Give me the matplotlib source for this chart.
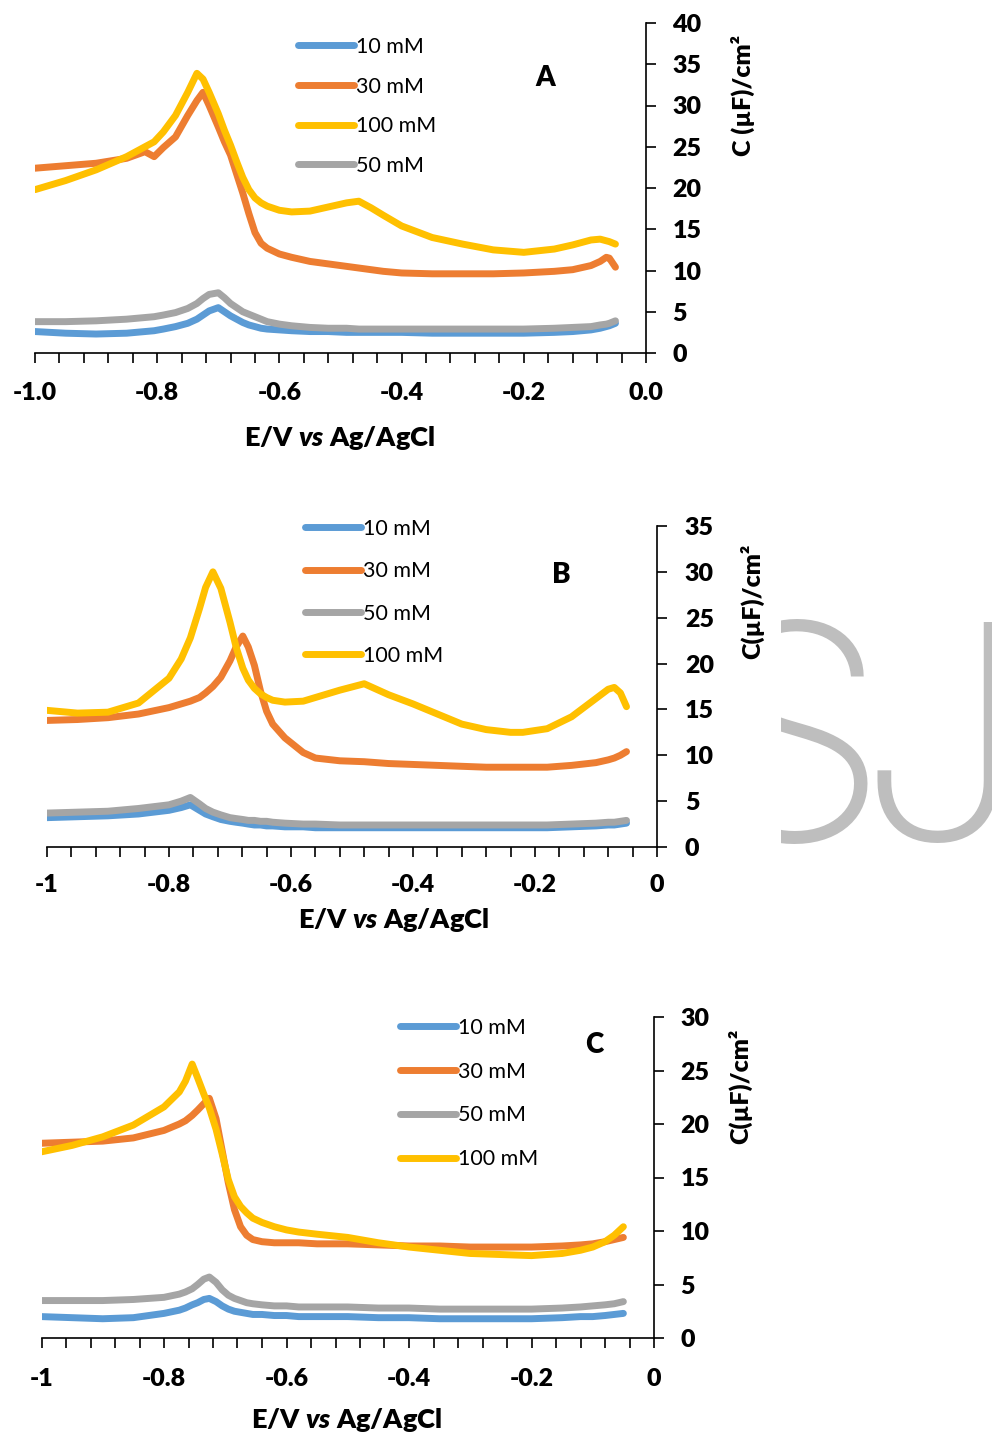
import matplotlib
matplotlib.use('Agg')
from matplotlib import pyplot as plt
from matplotlib.patches import Rectangle
from matplotlib.ticker import MultipleLocator, FixedLocator

plt.rcParams['font.family'] = ['Lato', 'DejaVu Sans']
plt.rcParams['font.weight'] = 'heavy'
plt.rcParams['axes.labelweight'] = 'heavy'
plt.rcParams['mathtext.fontset'] = 'custom'
plt.rcParams['mathtext.it'] = 'Lato:italic:heavy'
plt.rcParams['mathtext.rm'] = 'Lato:heavy'
plt.rcParams['axes.unicode_minus'] = False

W, H = 992, 1442

colors = {'10 mM': '#5B9BD5', '30 mM': '#ED7D31', '50 mM': '#A5A5A5', '100 mM': '#FFC000'}

# ---- panel A ----
a_e = [-1.0, -0.95, -0.9, -0.85, -0.82, -0.805, -0.79, -0.77, -0.75, -0.735, -0.725, -0.715,
       -0.70, -0.69, -0.68, -0.67, -0.66, -0.65, -0.64, -0.63, -0.62, -0.60, -0.58, -0.55,
       -0.52, -0.49, -0.47, -0.45, -0.43, -0.40, -0.35, -0.30, -0.25, -0.20, -0.15, -0.12,
       -0.09, -0.075, -0.065, -0.06, -0.05]
a_10 = [2.6, 2.4, 2.3, 2.4, 2.6, 2.7, 2.9, 3.2, 3.6, 4.1, 4.6, 5.1,
        5.5, 5.0, 4.5, 4.1, 3.7, 3.4, 3.2, 3.0, 2.9, 2.8, 2.7, 2.6,
        2.6, 2.5, 2.5, 2.5, 2.5, 2.5, 2.4, 2.4, 2.4, 2.4, 2.5, 2.6,
        2.8, 3.0, 3.2, 3.3, 3.6]
a_30 = [22.4, 22.7, 23.0, 23.6, 24.4, 23.8, 24.9, 26.2, 28.8, 30.6, 31.6, 30.0,
        27.4, 25.6, 24.0, 21.7, 19.4, 16.9, 14.6, 13.3, 12.7, 12.0, 11.6, 11.1,
        10.8, 10.5, 10.3, 10.1, 9.9, 9.7, 9.6, 9.6, 9.6, 9.7, 9.9, 10.1,
        10.6, 11.1, 11.6, 11.5, 10.4]
a_50 = [3.8, 3.8, 3.9, 4.1, 4.3, 4.4, 4.6, 4.9, 5.4, 6.0, 6.6, 7.1,
        7.3, 6.7, 6.0, 5.5, 5.0, 4.7, 4.4, 4.1, 3.8, 3.5, 3.3, 3.1,
        3.0, 3.0, 2.9, 2.9, 2.9, 2.9, 2.9, 2.9, 2.9, 2.9, 3.0, 3.1,
        3.2, 3.4, 3.5, 3.6, 3.9]
a_100 = [19.8, 20.9, 22.2, 23.8, 25.0, 25.6, 26.8, 28.8, 31.6, 33.9, 33.2, 31.6,
         29.0, 27.0, 25.2, 23.2, 21.3, 19.8, 18.8, 18.2, 17.8, 17.3, 17.1, 17.2,
         17.7, 18.2, 18.4, 17.6, 16.7, 15.4, 14.0, 13.2, 12.5, 12.2, 12.6, 13.1,
         13.7, 13.8, 13.6, 13.5, 13.2]

# ---- panel B ----
b_e = [-1.0, -0.95, -0.9, -0.85, -0.8, -0.78, -0.765, -0.75, -0.74, -0.728, -0.715, -0.70,
       -0.69, -0.679, -0.67, -0.66, -0.65, -0.64, -0.63, -0.61, -0.58, -0.56, -0.52, -0.48,
       -0.44, -0.40, -0.36, -0.32, -0.28, -0.24, -0.22, -0.18, -0.14, -0.10, -0.08, -0.07,
       -0.06, -0.05]
b_10 = [3.2, 3.3, 3.4, 3.6, 4.0, 4.3, 4.6, 4.0, 3.6, 3.3, 3.0, 2.8,
        2.7, 2.6, 2.5, 2.4, 2.4, 2.3, 2.3, 2.2, 2.2, 2.1, 2.1, 2.1,
        2.1, 2.1, 2.1, 2.1, 2.1, 2.1, 2.1, 2.1, 2.2, 2.3, 2.4, 2.4,
        2.5, 2.6]
b_30 = [13.8, 13.9, 14.1, 14.5, 15.2, 15.6, 15.9, 16.3, 16.8, 17.5, 18.5, 20.3,
        21.8, 23.0, 21.8, 19.8, 17.0, 14.8, 13.4, 11.9, 10.3, 9.7, 9.4, 9.3,
        9.1, 9.0, 8.9, 8.8, 8.7, 8.7, 8.7, 8.7, 8.9, 9.2, 9.5, 9.7,
        10.0, 10.4]
b_50 = [3.7, 3.8, 3.9, 4.2, 4.6, 5.0, 5.4, 4.7, 4.2, 3.8, 3.5, 3.2,
        3.1, 3.0, 2.9, 2.9, 2.8, 2.8, 2.7, 2.6, 2.5, 2.5, 2.4, 2.4,
        2.4, 2.4, 2.4, 2.4, 2.4, 2.4, 2.4, 2.4, 2.5, 2.6, 2.7, 2.7,
        2.8, 2.9]
b_100 = [14.9, 14.6, 14.7, 15.7, 18.4, 20.5, 22.8, 26.0, 28.3, 30.0, 28.2, 24.5,
         21.8, 19.5, 18.2, 17.3, 16.7, 16.3, 16.0, 15.8, 15.9, 16.3, 17.1, 17.8,
         16.6, 15.6, 14.5, 13.4, 12.8, 12.5, 12.5, 12.9, 14.2, 16.2, 17.2, 17.4,
         16.8, 15.3]

# ---- panel C ----
c_e = [-1.0, -0.95, -0.9, -0.85, -0.8, -0.775, -0.765, -0.754, -0.745, -0.735, -0.726, -0.715,
       -0.705, -0.695, -0.685, -0.675, -0.665, -0.655, -0.64, -0.62, -0.6, -0.58, -0.55, -0.5,
       -0.45, -0.4, -0.35, -0.3, -0.25, -0.2, -0.15, -0.12, -0.1, -0.08, -0.065, -0.05]
c_10 = [2.0, 1.9, 1.8, 1.9, 2.3, 2.6, 2.8, 3.1, 3.3, 3.6, 3.7, 3.4,
        3.0, 2.7, 2.5, 2.4, 2.3, 2.2, 2.2, 2.1, 2.1, 2.0, 2.0, 2.0,
        1.9, 1.9, 1.8, 1.8, 1.8, 1.8, 1.9, 2.0, 2.0, 2.1, 2.2, 2.3]
c_30 = [18.2, 18.3, 18.4, 18.7, 19.4, 20.0, 20.3, 20.8, 21.3, 21.9, 22.4, 20.5,
        17.5, 14.5, 12.0, 10.4, 9.6, 9.2, 9.0, 8.9, 8.9, 8.9, 8.8, 8.8,
        8.7, 8.6, 8.6, 8.5, 8.5, 8.5, 8.6, 8.7, 8.8, 9.0, 9.2, 9.4]
c_50 = [3.5, 3.5, 3.5, 3.6, 3.8, 4.1, 4.3, 4.6, 5.0, 5.5, 5.7, 5.2,
        4.5, 4.0, 3.7, 3.5, 3.3, 3.2, 3.1, 3.0, 3.0, 2.9, 2.9, 2.9,
        2.8, 2.8, 2.7, 2.7, 2.7, 2.7, 2.8, 2.9, 3.0, 3.1, 3.2, 3.4]
c_100 = [17.4, 18.0, 18.8, 19.9, 21.6, 23.0, 24.0, 25.6, 24.3, 22.8, 21.5, 19.5,
         17.2, 14.8, 13.2, 12.3, 11.7, 11.2, 10.8, 10.4, 10.1, 9.9, 9.7, 9.4,
         8.9, 8.5, 8.2, 7.9, 7.8, 7.7, 7.9, 8.2, 8.5, 9.0, 9.6, 10.4]

a_xticklabels = ['-1.0', '-0.8', '-0.6', '-0.4', '-0.2', '0.0']
bc_xticklabels = ['-1', '-0.8', '-0.6', '-0.4', '-0.2', '0']
xticks = [-1.0, -0.8, -0.6, -0.4, -0.2, 0.0]


def px_rect(left, top, right, bottom):
    return [left / W, 1 - bottom / H, (right - left) / W, (bottom - top) / H]


def style_axes(ax, ymax, xticklabels, xpad, ypad):
    ax.set_xlim(-1, 0)
    ax.set_ylim(0, ymax)
    ax.patch.set_alpha(0)
    for side in ('top', 'left'):
        ax.spines[side].set_visible(False)
    for side in ('right', 'bottom'):
        ax.spines[side].set_linewidth(1.2)
    ax.yaxis.tick_right()
    ax.yaxis.set_major_locator(MultipleLocator(5))
    ax.xaxis.set_major_locator(FixedLocator(xticks))
    ax.set_xticklabels(xticklabels)
    ax.xaxis.set_minor_locator(MultipleLocator(0.04))
    ax.tick_params(axis='x', which='both', direction='out', length=7, width=1.2,
                   labelsize=18, pad=xpad)
    ax.tick_params(axis='y', which='both', direction='out', length=7, width=1.2,
                   labelsize=18, pad=ypad)


def draw_curves(ax, e, series):
    for label, values in series:
        ax.plot(e, values, color=colors[label], lw=5.0, label=label,
                solid_capstyle='round', solid_joinstyle='round')


def add_legend(ax, anchor, spacing):
    ax.legend(loc='upper left', bbox_to_anchor=anchor, frameon=False,
              prop={'weight': 'normal', 'size': 15.5}, handlelength=2.6,
              handletextpad=0.1, labelspacing=spacing, borderpad=0, borderaxespad=0)


def add_labels(ax, ylabel, ylabel_xy, xlabel_xy):
    ax.set_xlabel('E/V $\\mathit{vs}$ Ag/AgCl', fontsize=19.5)
    ax.xaxis.set_label_coords(*xlabel_xy)
    ax.xaxis.label.set_va('center')
    ax.set_ylabel(ylabel, fontsize=18)
    ax.yaxis.set_label_position('right')
    ax.yaxis.set_label_coords(*ylabel_xy)
    ax.yaxis.label.set_va('center')
    ax.yaxis.label.set_ha('center')


fig = plt.figure(figsize=(W / 100, H / 100), dpi=100)

# big grey watermark letters on the right, cut off on their left side
sj_clip = Rectangle((781 / W, 0), 1, 1, transform=fig.transFigure)
for ch, right in (('S', 889), ('J', 1025)):
    t = fig.text(right / W, 1 - 840 / H, ch, ha='right', va='baseline', fontsize=216,
                 color='#BEBEBE', family='Inter', weight='light')
    t.set_clip_path(sj_clip)

# A
ax_a = fig.add_axes(px_rect(35, 23, 646, 353))
style_axes(ax_a, 40, a_xticklabels, 14, 12)
draw_curves(ax_a, a_e, [('10 mM', a_10), ('30 mM', a_30), ('100 mM', a_100), ('50 mM', a_50)])
add_legend(ax_a, ((298 - 35) / 611, (353 - 37) / 330), 0.91)
ax_a.text((545 - 35) / 611, (353 - 78) / 330, 'A', transform=ax_a.transAxes,
          ha='center', va='center', fontsize=20)
add_labels(ax_a, 'C (µF)/cm²', ((743 - 35) / 611, (353 - 95) / 330),
           ((340 - 35) / 611, (353 - 438) / 330))

# B
ax_b = fig.add_axes(px_rect(47, 526, 657, 847))
style_axes(ax_b, 35, bc_xticklabels, 12.5, 13)
draw_curves(ax_b, b_e, [('10 mM', b_10), ('30 mM', b_30), ('50 mM', b_50), ('100 mM', b_100)])
add_legend(ax_b, ((305 - 47) / 610, (847 - 519) / 321), 1.035)
ax_b.text((561 - 47) / 610, (847 - 575) / 321, 'B', transform=ax_b.transAxes,
          ha='center', va='center', fontsize=20)
add_labels(ax_b, 'C(µF)/cm²', ((752 - 47) / 610, (847 - 601) / 321),
           ((394 - 47) / 610, (847 - 920) / 321))

# C
ax_c = fig.add_axes(px_rect(41.5, 1017, 654, 1338))
style_axes(ax_c, 30, bc_xticklabels, 14.5, 12)
draw_curves(ax_c, c_e, [('10 mM', c_10), ('30 mM', c_30), ('50 mM', c_50), ('100 mM', c_100)])
add_legend(ax_c, ((400 - 41.5) / 612.5, (1338 - 1018) / 321), 1.10)
ax_c.text((594 - 41.5) / 612.5, (1338 - 1045) / 321, 'C', transform=ax_c.transAxes,
          ha='center', va='center', fontsize=20)
add_labels(ax_c, 'C(µF)/cm²', ((740 - 41.5) / 612.5, (1338 - 1086) / 321),
           ((347 - 41.5) / 612.5, (1338 - 1420) / 321))

fig.savefig('out.png', dpi=100, facecolor='white')
